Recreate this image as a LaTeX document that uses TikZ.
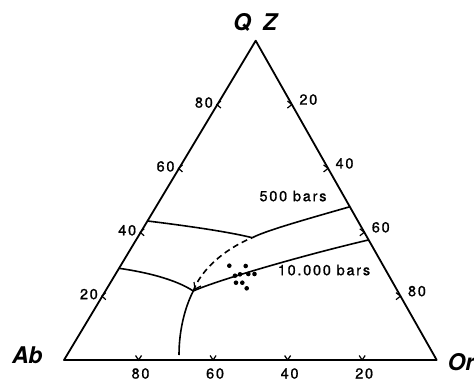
\documentclass[tikz,border=0pt]{standalone}
\usepackage{fontspec}
\setmainfont{TeX Gyre Heros}
\usetikzlibrary{calc}
\begin{document}
\begin{tikzpicture}[x=1pt,y=-1pt,
  edge/.style={line width=1.8pt,line join=round},
  curve/.style={line width=1.6pt},
  tick/.style={line width=1.2pt},
  num/.style={font=\fontsize{14.5}{14.5}\selectfont\addfontfeature{LetterSpace=12,FakeBold=1}},
  corner/.style={font=\fontsize{23}{23}\selectfont\bfseries\itshape},
  dot/.style={circle,fill=black,inner sep=0pt,minimum size=4.6pt}]
\useasboundingbox (0,0) rectangle (474,381);
% corners
\coordinate (A) at (64,360);
\coordinate (O) at (436.7,360);
\coordinate (Q) at (255.7,40.7);
\draw[edge] (A) -- (Q) -- (O) -- cycle;
\node[corner] (lq) at (255,22) {Q\hspace{12pt}Z};
\node[corner,anchor=east] (la) at (46,355) {Ab};
\node[corner,anchor=west] (lo) at (444,362) {Or};
% ticks left side (Q %)
\foreach \q/\l in {0.2/20,0.4/40,0.6/60,0.8/80}{
  \coordinate (t) at ($(A)!\q!(Q)$);
  \draw[tick] ($(t)+(3.5,-3.5)$) -- ($(t)+(-0.5,0)$) -- ($(t)+(3.5,3.5)$);
  \node[num,anchor=east] at ($(t)+(-1,-2)$) {\l};
}
% ticks right side (Or %)
\foreach \q/\l in {0.2/80,0.4/60,0.6/40,0.8/20}{
  \coordinate (t) at ($(O)!\q!(Q)$);
  \draw[tick] ($(t)+(-4.5,-3.5)$) -- ($(t)+(0,0)$) -- ($(t)+(-4.5,3.5)$);
  \node[num,anchor=west] at ($(t)+(4,-5)$) {\l};
}
% ticks bottom (Ab %)
\foreach \q/\l in {0.2/80,0.4/60,0.6/40,0.8/20}{
  \coordinate (t) at ($(A)!\q!(O)$);
  \draw[tick] ($(t)+(-3,-4.5)$) -- ($(t)+(0,0)$) -- ($(t)+(3,-4.5)$);
  \node[num] at ($(t)+(2,13.5)$) {\l};
}
% cotectic curves
\coordinate (J1) at (252.3,237.7);
\coordinate (J2) at (193.3,291);
\coordinate (L1) at (147.7,221);
\coordinate (R1) at (350,206.7);
\coordinate (L2) at (119,268.3);
\coordinate (R2) at (368.3,240);
\coordinate (B) at (179,355);
\draw[curve] (L1) .. controls (180,225) and (225,231) .. (J1);
\draw[curve] (J1) .. controls (265,231) and (300,221) .. (R1);
\draw[curve,dash pattern=on 6pt off 4pt] (J2) .. controls (200,272) and (222,250) .. (J1);
\draw[curve] (L2) .. controls (145,272) and (175,279) .. (J2);
\draw[curve] (J2) .. controls (215,281) and (300,256) .. (R2);
\draw[curve] (J2) .. controls (186,305) and (179,328) .. (B);
\draw[tick] (194,282) -- (195,289) -- (201,286);
% labels
\node[num] (p500) at (293,196) {500 bars};
\node[num] (p10k) at (324,270) {10.000 bars};
% data points
\foreach \p in {(229.3,265.7),(245.7,266),(235,275.7),(240,274.3),(248.3,274),(254.5,274),(236,282.7),(242.3,282.7),(246.7,288.3)}
  \node[dot] at \p {};
\end{tikzpicture}
\end{document}
